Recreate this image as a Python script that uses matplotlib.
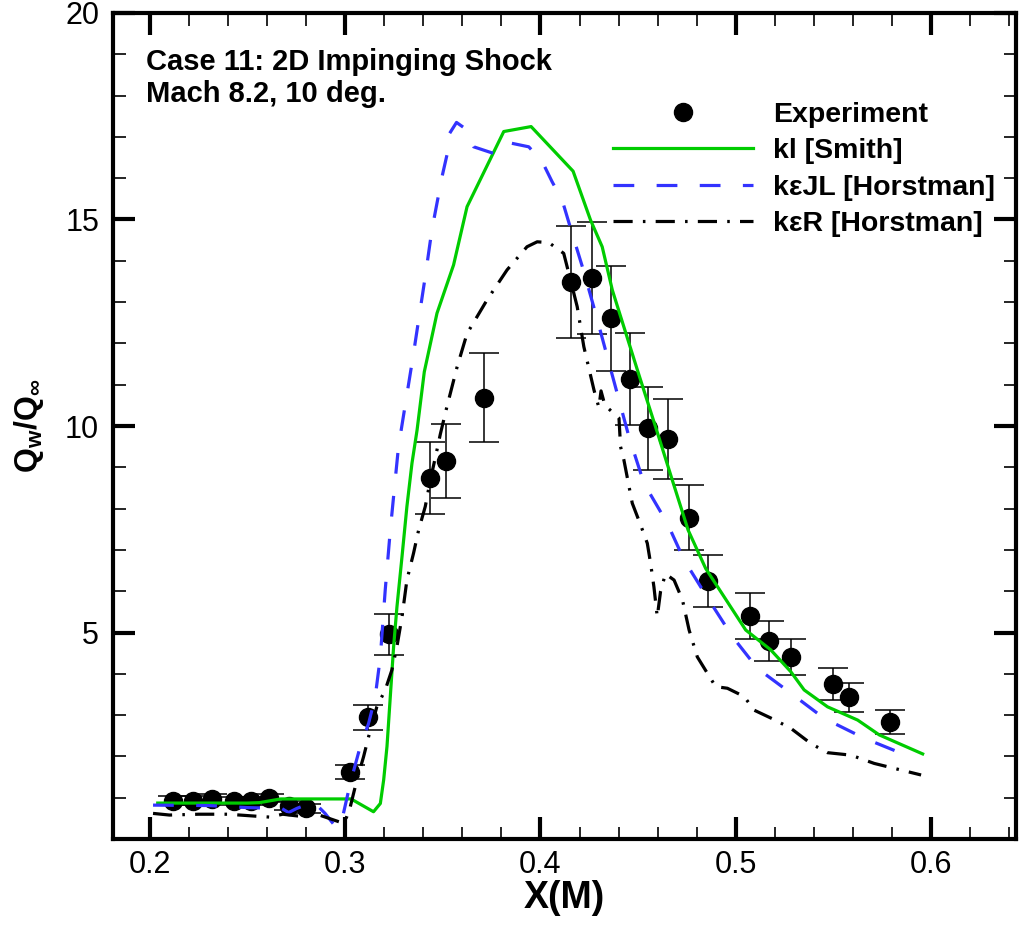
import matplotlib
matplotlib.use("Agg")
import matplotlib.pyplot as plt
from matplotlib.lines import Line2D
from matplotlib.ticker import MultipleLocator, FixedLocator

plt.rcParams["font.family"] = ["Liberation Sans", "DejaVu Sans"]
plt.rcParams["mathtext.fontset"] = "custom"
plt.rcParams["mathtext.rm"] = "Liberation Sans"
plt.rcParams["mathtext.bf"] = "Liberation Sans:bold"

# Experiment (x, Qw/Qinf, error)
exp_x = [0.212, 0.222, 0.232, 0.243, 0.252, 0.261, 0.271, 0.280, 0.3026, 0.3118,
         0.3226, 0.3436, 0.3518, 0.371, 0.4154, 0.4262, 0.4362, 0.446, 0.455, 0.4655,
         0.476, 0.4858, 0.5073, 0.5171, 0.5282, 0.5499, 0.5581, 0.5791]
exp_y = [0.93, 0.93, 0.98, 0.92, 0.92, 0.99, 0.81, 0.74, 1.62, 2.95,
         4.96, 8.74, 9.15, 10.69, 13.49, 13.59, 12.61, 11.14, 9.94, 9.68,
         7.78, 6.25, 5.40, 4.79, 4.41, 3.75, 3.43, 2.83]
exp_err = [0.1, 0.1, 0.1, 0.1, 0.1, 0.1, 0.1, 0.1, 0.16, 0.3,
           0.5, 0.87, 0.9, 1.07, 1.35, 1.36, 1.27, 1.12, 1.0, 0.97,
           0.78, 0.63, 0.55, 0.48, 0.44, 0.38, 0.35, 0.29]

# kl [Smith]
kl_x = [0.204, 0.25, 0.256, 0.267, 0.303, 0.3145, 0.318, 0.3197, 0.3214, 0.3231,
        0.3248, 0.3265, 0.3291, 0.3316, 0.3342, 0.3368, 0.3405, 0.347, 0.3555, 0.3624,
        0.3812, 0.3952, 0.4167, 0.4256, 0.4316, 0.4368, 0.4496, 0.46, 0.4675, 0.4756,
        0.4846, 0.5051, 0.5179, 0.5282, 0.535, 0.547, 0.5624, 0.5735, 0.5957]
kl_y = [0.87, 0.87, 0.88, 0.97, 0.97, 0.66, 0.86, 1.43, 2.24, 3.45,
        4.66, 5.62, 6.84, 8.05, 9.1, 9.9, 11.31, 12.73, 13.9, 15.31,
        17.13, 17.25, 16.17, 14.99, 14.34, 13.29, 11.36, 9.82, 8.69, 7.48,
        6.55, 5.06, 4.58, 4.05, 3.61, 3.2, 2.88, 2.52, 2.06]

# k-eps JL [Horstman]
kejl_x = [0.2016, 0.23, 0.25, 0.2675, 0.271, 0.2752, 0.2838, 0.2897, 0.2957, 0.2991,
          0.3026, 0.3077, 0.312, 0.3154, 0.318, 0.3205, 0.3231, 0.3256, 0.3273, 0.335,
          0.341, 0.3444, 0.3496, 0.3521, 0.353, 0.357, 0.3615, 0.3658, 0.376, 0.3838,
          0.394, 0.4009, 0.406, 0.4111, 0.4154, 0.4222, 0.4282, 0.4342, 0.4402, 0.4453,
          0.453, 0.465, 0.4735, 0.4846, 0.4983, 0.5111, 0.5282, 0.5453, 0.5658, 0.5872]
kejl_y = [0.82, 0.81, 0.76, 0.74, 0.64, 0.74, 0.9, 0.62, 0.26, 0.62,
          1.35, 2.24, 2.8, 3.45, 4.41, 6.03, 7.48, 8.69, 9.5, 11.76,
          13.62, 14.75, 16.04, 16.56, 17.05, 17.35, 17.2, 16.76, 16.6, 16.86,
          16.76, 16.4, 15.91, 15.47, 14.79, 13.74, 12.73, 11.68, 10.63, 9.74,
          8.61, 7.64, 6.76, 5.91, 4.9, 4.13, 3.53, 2.92, 2.44, 2.03]

# k-eps R [Horstman]
ker_x = [0.2016, 0.21, 0.225, 0.24, 0.255, 0.2615, 0.268, 0.277, 0.2855, 0.2991,
         0.3008, 0.3026, 0.306, 0.3094, 0.312, 0.3162, 0.3205, 0.3239, 0.3265, 0.3291,
         0.3316, 0.335, 0.3376, 0.341, 0.3436, 0.347, 0.3487, 0.3521, 0.3573, 0.3624,
         0.3726, 0.3829, 0.3931, 0.3983, 0.4043, 0.4119, 0.4154, 0.4188, 0.4222, 0.4274,
         0.4299, 0.431, 0.433, 0.4402, 0.441, 0.4427, 0.447, 0.4513, 0.4547, 0.4564,
         0.4581, 0.4598, 0.4615, 0.464, 0.4684, 0.4727, 0.4761, 0.4803, 0.4855, 0.4897,
         0.4957, 0.5043, 0.5094, 0.5197, 0.5282, 0.5385, 0.547, 0.559, 0.5709, 0.5949]
ker_y = [0.62, 0.58, 0.6, 0.6, 0.55, 0.53, 0.6, 0.55, 0.6, 0.38,
         0.54, 0.78, 1.43, 1.99, 2.48, 3.2, 3.61, 4.09, 4.66, 5.38,
         6.27, 6.92, 7.48, 8.05, 8.69, 9.42, 9.8, 10.47, 11.43, 12.24,
         13.05, 13.78, 14.34, 14.46, 14.44, 14.18, 13.53, 12.89, 11.92, 10.87,
         10.45, 10.85, 10.5, 10.19, 9.5, 9.18, 8.13, 7.6, 7.16, 6.67,
         6.1, 5.38, 6.0, 6.42, 6.27, 5.79, 5.06, 4.41, 4.01, 3.69,
         3.65, 3.45, 3.12, 2.89, 2.68, 2.31, 2.09, 2.03, 1.83, 1.55]

labels = ["Experiment", "kl [Smith]", "kεJL [Horstman]", "kεR [Horstman]"]

GREEN = "#00cc00"
BLUE = "#3333ff"
DASH = (0, (6.5, 7))
DASHDOT = (0, (6, 3.2, 0.8, 3.2))

fig = plt.figure(figsize=(10.29, 9.30), dpi=100)
ax = fig.add_axes([113 / 1029, 91 / 930, 903 / 1029, 826 / 930])

ax.errorbar(exp_x, exp_y, yerr=exp_err, fmt="o", color="black", markersize=13,
            ecolor="black", elinewidth=1.1, capsize=11, capthick=1.1, zorder=2)
ax.plot(kl_x, kl_y, color=GREEN, lw=2.3, zorder=3)
ax.plot(kejl_x, kejl_y, color=BLUE, lw=2.3, linestyle=DASH, zorder=3)
ax.plot(ker_x, ker_y, color="black", lw=2.3, linestyle=DASHDOT, zorder=3)

ax.set_xlim(0.1811, 0.6435)
ax.set_ylim(0, 20)
ax.xaxis.set_major_locator(FixedLocator([0.2, 0.3, 0.4, 0.5, 0.6]))
ax.xaxis.set_minor_locator(MultipleLocator(0.02))
ax.yaxis.set_major_locator(FixedLocator([5, 10, 15, 20]))
ax.yaxis.set_minor_locator(MultipleLocator(1))
ax.set_xticklabels(["0.2", "0.3", "0.4", "0.5", "0.6"])
ax.set_yticklabels(["5", "10", "15", "20"])

ax.tick_params(which="both", direction="in", top=True, right=True, labelsize=22)
ax.tick_params(which="major", length=16, width=3)
ax.tick_params(which="minor", length=9, width=1.2)
ax.tick_params(axis="x", pad=8)
ax.tick_params(axis="y", pad=10)
for s in ax.spines.values():
    s.set_linewidth(3)

ax.set_xlabel("X(M)", fontsize=27, fontweight="bold", labelpad=0)
ax.set_ylabel(r"$\mathbf{Q_w/Q_\infty}$", fontsize=23, labelpad=14)

ax.text(0.037, 0.958, "Case 11: 2D Impinging Shock\nMach 8.2, 10 deg.",
        transform=ax.transAxes, fontsize=21, fontweight="bold",
        va="top", ha="left", linespacing=1.2)

handles = [
    Line2D([], [], marker="o", color="black", linestyle="none", markersize=13),
    Line2D([], [], color=GREEN, lw=2.3),
    Line2D([], [], color=BLUE, lw=2.3, linestyle=DASH),
    Line2D([], [], color="black", lw=2.3, linestyle=DASHDOT),
]
ax.legend(handles, labels, loc="upper left", bbox_to_anchor=(0.554, 0.892),
          frameon=False, prop={"size": 20.5, "weight": "bold"}, handlelength=4.9,
          handletextpad=0.72, labelspacing=0.36, borderpad=0, borderaxespad=0)

fig.savefig("out.png", dpi=100)
